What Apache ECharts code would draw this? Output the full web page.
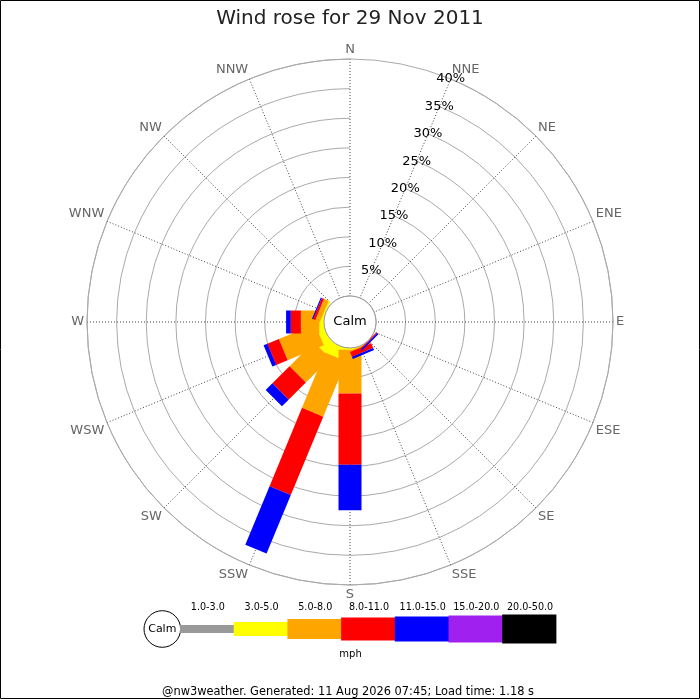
<!DOCTYPE html>
<html>
<head>
<meta charset="utf-8">
<title>Wind rose for 29 Nov 2011</title>
<script src="https://cdn.jsdelivr.net/npm/echarts@6/dist/echarts.min.js"></script>
<style>
    html, body { margin: 0; padding: 0; background: #fff; }
    #chart { width: 700px; height: 700px; }
</style>
</head>
<body>
<div id="chart"></div>
<script>
(function() {
    'use strict';

    // compass points, clockwise from north
    var directions = ['N', 'NNE', 'NE', 'ENE', 'E', 'ESE', 'SE', 'SSE',
                      'S', 'SSW', 'SW', 'WSW', 'W', 'WNW', 'NW', 'NNW'];

    // % of observations per direction, one array per speed band (mph)
    //                N  NNE NE ENE E  ESE SE    SSE   S     SSW   SW   WSW  W    WNW   NW NNW
    var band1to3   = [0, 0,  0, 0,  0, 0,  0,    0,    0,    0,    0,   0,   0,   0,    0, 0];
    var band3to5   = [0, 0,  0, 0,  0, 0,  0,    0.1,  0.3,  2.0,  2.3, 1.2, 0.8, 0.3,  0, 0];
    var band5to8   = [0, 0,  0, 0,  0, 0,  0,    0.2,  7.4,  10.1, 5.8, 6.6, 3.1, 0.85, 0, 0];
    var band8to11  = [0, 0,  0, 0,  0, 0,  0.2,  0.85, 12.0, 14.3, 4.1, 2.1, 1.7, 0.4,  0, 0];
    var band11to15 = [0, 0,  0, 0,  0, 0,  0.25, 0.4,  7.7,  10.7, 1.6, 0.7, 0.8, 0.2,  0, 0];
    var band15to20 = [0, 0,  0, 0,  0, 0,  0,    0,    0,    0,    0,   0,   0,   0,    0, 0];
    var band20to50 = [0, 0,  0, 0,  0, 0,  0,    0,    0,    0,    0,   0,   0,   0,    0, 0];

    var bandValues = [band1to3, band3to5, band5to8, band8to11, band11to15, band15to20, band20to50];
    var bandLabels = ['1.0-3.0', '3.0-5.0', '5.0-8.0', '8.0-11.0', '11.0-15.0', '15.0-20.0', '20.0-50.0'];
    var bandColors = ['#999999', '#ffff00', '#ffa500', '#ff0000', '#0000ff', '#a020f0', '#000000'];

    var titleText = 'Wind rose for 29 Nov 2011';
    var footerText = '@nw3weather. Generated: 11 Aug 2026 07:45; Load time: 1.18 s';

    // layout
    var CX = 350, CY = 322, CALM_R = 26, OUTER_R = 263;
    var BAR_HALF = 11.5;
    var FONT = 'DejaVu Sans';

    // radius axis is drawn along startAngle, so start the category list at NNE
    var axisDirections = directions.slice(1).concat(directions.slice(0, 1));

    // straight-sided bar segment between two radii, constant pixel width
    function renderBar(color) {
        return function(params, api) {
            var cs = params.coordSys;
            var from = api.value(0), to = api.value(1), dir = api.value(2);
            var p0 = api.coord([from, dir]);
            var p1 = api.coord([to, dir]);
            var dx = p1[0] - cs.cx, dy = p1[1] - cs.cy;
            var len = Math.sqrt(dx * dx + dy * dy) || 1;
            var nx = -dy / len * BAR_HALF, ny = dx / len * BAR_HALF;
            return {
                type: 'polygon',
                shape: {
                    points: [
                        [p0[0] + nx, p0[1] + ny],
                        [p1[0] + nx, p1[1] + ny],
                        [p1[0] - nx, p1[1] - ny],
                        [p0[0] - nx, p0[1] - ny]
                    ]
                },
                style: { fill: color }
            };
        };
    }

    var series = bandValues.map(function(values, b) {
        var data = [];
        directions.forEach(function(dir, i) {
            if (!values[i]) {
                return;
            }
            var start = 0;
            for (var k = 0; k < b; k++) {
                start += bandValues[k][i];
            }
            data.push([start, start + values[i], axisDirections.indexOf(dir)]);
        });
        return {
            type: 'custom',
            name: bandLabels[b],
            coordinateSystem: 'polar',
            z: 2 + b,
            dimensions: ['from', 'to', 'dir'],
            encode: { radius: 1, angle: 2 },
            renderItem: renderBar(bandColors[b]),
            data: data
        };
    });

    // legend key under the rose
    var KEY_X = 180, KEY_W = 53.7, KEY_Y = 629;
    var keyHeights = [8, 14, 20, 23, 25, 27, 29];
    var graphics = [
        { type: 'rect', z: 100, shape: { x: 0.5, y: 0.5, width: 699, height: 698 },
          style: { fill: 'none', stroke: '#000', lineWidth: 1 } },
        { type: 'circle', z: 100, shape: { cx: CX, cy: CY, r: CALM_R },
          style: { fill: '#fff', stroke: '#999', lineWidth: 1 } },
        { type: 'text', z: 101, x: CX, y: CY,
          style: { text: 'Calm', fill: '#000', font: '13px "' + FONT + '"', textAlign: 'center', textVerticalAlign: 'middle' } },
        { type: 'circle', z: 100, shape: { cx: 162.3, cy: KEY_Y, r: 18.3 },
          style: { fill: '#fff', stroke: '#000', lineWidth: 1 } },
        { type: 'text', z: 101, x: 162.3, y: KEY_Y,
          style: { text: 'Calm', fill: '#000', font: '11px "' + FONT + '"', textAlign: 'center', textVerticalAlign: 'middle' } },
        { type: 'text', z: 100, x: 350.5, y: 654,
          style: { text: 'mph', fill: '#000', font: '10px "' + FONT + '"', textAlign: 'center', textVerticalAlign: 'middle' } },
        { type: 'text', z: 100, x: 348, y: 692,
          style: { text: footerText, fill: '#000', font: '11.4px "' + FONT + '"', textAlign: 'center', textVerticalAlign: 'middle' } }
    ];
    bandLabels.forEach(function(label, b) {
        var h = keyHeights[b];
        graphics.push({
            type: 'rect', z: 100,
            shape: { x: KEY_X + b * KEY_W, y: KEY_Y - h / 2, width: KEY_W + 0.5, height: h },
            style: { fill: bandColors[b] }
        });
        graphics.push({
            type: 'text', z: 100, x: KEY_X + b * KEY_W + KEY_W / 2 + 1, y: 607.5,
            style: { text: label, fill: '#000', font: '9.6px "' + FONT + '"', textAlign: 'center', textVerticalAlign: 'middle' }
        });
    });

    var chart = echarts.init(document.getElementById('chart'), null, { renderer: 'canvas' });
    chart.setOption({
        backgroundColor: '#fff',
        animation: false,
        textStyle: { fontFamily: FONT },
        title: {
            text: titleText,
            left: 'center',
            top: 4,
            textStyle: { fontSize: 20, fontWeight: 'normal', color: '#222', fontFamily: FONT }
        },
        polar: {
            center: [CX, CY],
            radius: [CALM_R, OUTER_R]
        },
        angleAxis: {
            type: 'category',
            data: axisDirections,
            startAngle: 67.5,
            clockwise: true,
            boundaryGap: false,
            axisLine: { show: true, lineStyle: { color: '#aaa', width: 1 } },
            axisTick: { show: false },
            axisLabel: { color: '#666', fontSize: 13, margin: 3, fontFamily: FONT },
            splitLine: { show: true, lineStyle: { color: '#444', width: 1, type: [1, 2] } }
        },
        radiusAxis: {
            type: 'value',
            min: 0,
            max: 40,
            interval: 5,
            axisLine: { show: false },
            axisTick: { show: false },
            axisLabel: {
                margin: 0,
                align: 'center',
                verticalAlign: 'middle',
                color: '#000',
                fontSize: 13,
                fontFamily: FONT,
                formatter: function(v) { return v ? v + '%' : ''; }
            },
            splitLine: { show: true, lineStyle: { color: '#aaa', width: 1 } }
        },
        graphic: { elements: graphics },
        series: series
    });
})();
</script>
</body>
</html>
